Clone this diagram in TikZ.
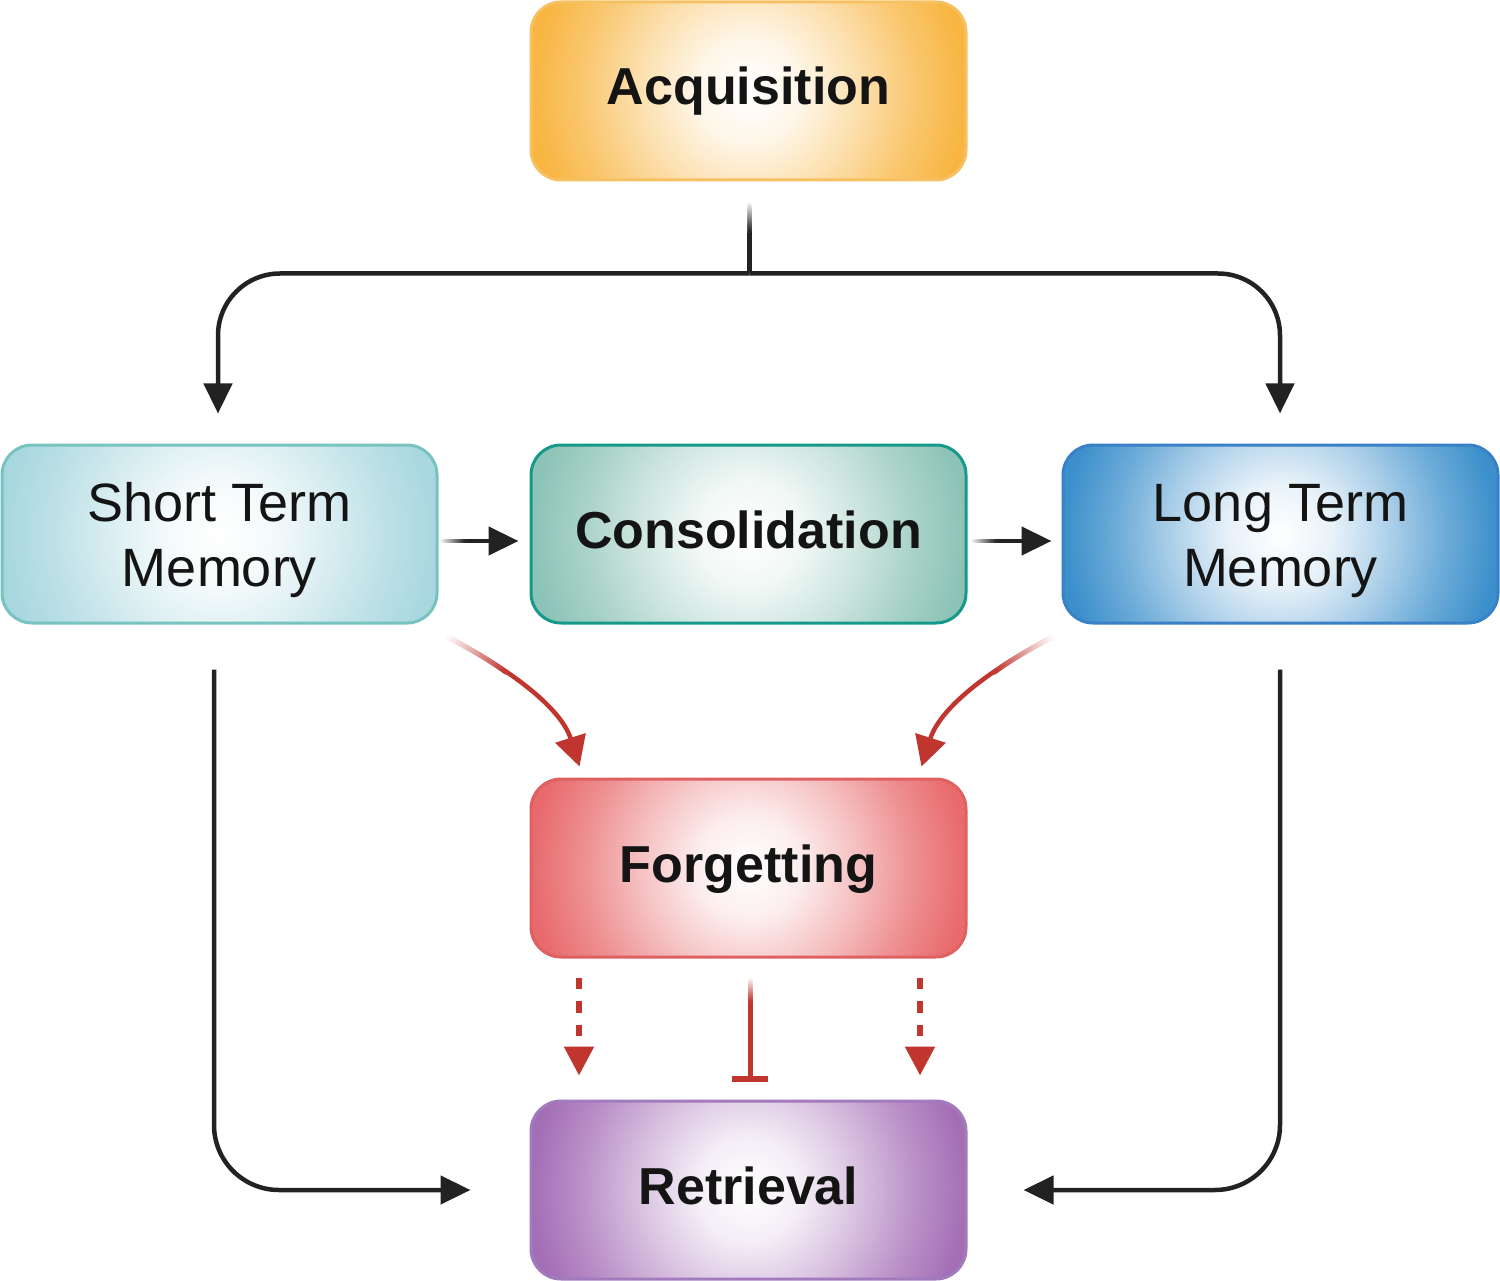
\documentclass[tikz,border=0pt]{standalone}
\usepackage{fontspec}
\setmainfont{Liberation Sans}
\usetikzlibrary{arrows.meta,calc}
\definecolor{acqO}{HTML}{F8B541}
\definecolor{acqB}{HTML}{F6C162}
\definecolor{stmO}{HTML}{A8D7DF}
\definecolor{stmB}{HTML}{76C3BF}
\definecolor{conO}{HTML}{8CC3B6}
\definecolor{conB}{HTML}{14998A}
\definecolor{ltmO}{HTML}{3B8FCB}
\definecolor{ltmB}{HTML}{3A80C6}
\definecolor{forO}{HTML}{E86A6C}
\definecolor{forB}{HTML}{DF6061}
\definecolor{retO}{HTML}{A46EB6}
\definecolor{retB}{HTML}{A27BBD}
\definecolor{redline}{HTML}{C0362F}
\definecolor{lineblack}{HTML}{222222}
\definecolor{txt}{HTML}{141414}
% soft circular radial shadings
\newcommand{\defshade}[2]{%
  \pgfdeclareradialshading{#1}{\pgfpoint{0bp}{0bp}}{color(0bp)=(white); color(6bp)=(#2!12!white); color(12.5bp)=(#2!42!white); color(19bp)=(#2!75!white); color(25bp)=(#2); color(50bp)=(#2)}}
\defshade{shacq}{acqO}
\defshade{shstm}{stmO}
\defshade{shcon}{conO}
\defshade{shltm}{ltmO}
\defshade{shfor}{forO}
\defshade{shret}{retO}
% fading start pieces: short segments blending from white to the line colour
\newcommand{\fadeline}[4]{%
  \foreach \k [evaluate=\k as \p using int(100*(\k+0.5)/20), evaluate=\k as \ta using \k/20, evaluate=\k as \tb using (\k+1)/20] in {0,...,19}
    {\draw[color=#4!\p!white, line width=#3, line cap=round] ($(#1)!\ta!(#2)$) -- ($(#1)!\tb!(#2)$);}%
}
\newcommand{\fadepts}[3]{%
  \foreach \k [evaluate=\k as \p using int(100*(\k+0.5)/20), evaluate=\k as \kk using int(\k+1)] in {0,...,19}
    {\draw[color=#3!\p!white, line width=#2, line cap=round] (#1\k) -- (#1\kk);}%
}
\begin{document}
\begin{tikzpicture}[x=1pt,y=-1pt,
  box/.style={rectangle, rounded corners=30pt, minimum width=435pt, minimum height=178pt,
    line width=3pt, inner sep=0pt, text=txt, align=center},
  soft/.style={path picture={\shade[shading=#1] ($(path picture bounding box.center)+(-217.5,-217.5)$) rectangle ($(path picture bounding box.center)+(217.5,217.5)$);}},
  boldtxt/.style={font=\fontsize{52}{65}\selectfont\bfseries, text height=40pt, text depth=12pt},
  regtxt/.style={font=\fontsize{54}{65}\selectfont},
  blk/.style={draw=lineblack, line width=4.5pt},
  blkarr/.style={-{Triangle[width=28pt,length=30pt]}},
  redc/.style={draw=redline, line width=4.5pt, -{Triangle[width=31pt,length=30pt]}},
  reddash/.style={draw=redline, line width=5.5pt, dash pattern=on 11.5pt off 12pt, -{Triangle[width=29pt,length=29pt]}},
  redbar/.style={draw=redline, line width=5pt, -{Bar[width=36pt,line width=6pt]}}
]
\useasboundingbox (0,0) rectangle (1500,1281);

% boxes
\node[box, boldtxt, soft=shacq, draw=acqB] (acq) at (748.5,91) {Acquisition};
\node[box, regtxt, soft=shstm, draw=stmB] (stm) at (219.5,534) {\rule{0pt}{51pt}Short Term\\Memory};
\node[box, boldtxt, soft=shcon, draw=conB] (cons) at (748.5,534) {Consolidation};
\node[box, regtxt, soft=shltm, draw=ltmB] (ltm) at (1280.5,534) {\rule{0pt}{51pt}Long Term\\Memory};
\node[box, boldtxt, soft=shfor, draw=forB] (forg) at (748.5,868) {Forgetting};
\node[box, boldtxt, soft=shret, draw=retB] (ret) at (748.5,1190) {Retrieval};

% coordinates
\coordinate (acqOut) at ($(acq.south)+(1,22)$);
\coordinate (acqFade) at ($(acq.south)+(1,52)$);
\coordinate (fork) at ($(acq.south)+(1,92)$);
\coordinate (stmIn) at ($(stm.north)+(-1.5,-30)$);
\coordinate (ltmIn) at ($(ltm.north)+(-0.5,-30)$);
\coordinate (sc1) at ($(stm.east)+(3,7)$);
\coordinate (scFade) at ($(stm.east)+(29,7)$);
\coordinate (sc2) at ($(cons.west)+(-11,7)$);
\coordinate (cl1) at ($(cons.east)+(5,7)$);
\coordinate (clFade) at ($(cons.east)+(31,7)$);
\coordinate (cl2) at ($(ltm.west)+(-10,7)$);
\coordinate (stmOut) at ($(stm.south)+(-5.5,45)$);
\coordinate (retInL) at ($(ret.west)+(-59,0)$);
\coordinate (ltmOut) at ($(ltm.south)+(-0.5,45)$);
\coordinate (retInR) at ($(ret.east)+(56,0)$);
\coordinate (rl1) at ($(stm.south east)+(10,13)$);
\coordinate (rl2) at ($(forg.north west)+(50,-11)$);
\coordinate (rr1) at ($(ltm.south west)+(-10,13)$);
\coordinate (rr2) at ($(forg.north east)+(-46,-11)$);
\coordinate (fdl1) at ($(forg.south)+(-169.5,19)$);
\coordinate (fdl2) at ($(ret.north)+(-169.5,-24)$);
\coordinate (fdr1) at ($(forg.south)+(171.5,19)$);
\coordinate (fdr2) at ($(ret.north)+(171.5,-24)$);
\coordinate (fi1) at ($(forg.south)+(1.5,21)$);
\coordinate (fiFade) at ($(forg.south)+(1.5,45)$);
\coordinate (fi2) at ($(ret.north)+(1.5,-18)$);

% black connectors (faded start pieces drawn separately)
\fadeline{acqOut}{acqFade}{4.5pt}{lineblack}
\draw[blk] (acqFade) -- (fork);
\draw[blk, blkarr, rounded corners=62pt] (fork) -| (stmIn);
\draw[blk, blkarr, rounded corners=62pt] (fork) -| (ltmIn);
\fadeline{sc1}{scFade}{4.5pt}{lineblack}
\draw[blk, blkarr] (scFade) -- (sc2);
\fadeline{cl1}{clFade}{4.5pt}{lineblack}
\draw[blk, blkarr] (clFade) -- (cl2);
\draw[blk, blkarr, rounded corners=65pt] (stmOut) |- (retInL);
\draw[blk, blkarr, rounded corners=65pt] (ltmOut) |- (retInR);

% red connectors
\draw[redc] (rl1) .. controls ($(rl1)+(67,35)$) and ($(rl2)+(-18,-57)$) .. (rl2);
\draw[redc] (rr1) .. controls ($(rr1)+(-67,35)$) and ($(rr2)+(18,-57)$) .. (rr2);
\draw[reddash] (fdl1) -- (fdl2);
\draw[reddash] (fdr1) -- (fdr2);
\fadeline{fi1}{fiFade}{5pt}{redline}
\draw[redbar] (fiFade) -- (fi2);

% fades at the red curve starts
\path (rl1) .. controls ($(rl1)+(67,35)$) and ($(rl2)+(-18,-57)$) .. (rl2)
  \foreach \k [evaluate=\k as \t using \k*0.016] in {0,...,20} {coordinate[pos=\t] (fl\k)};
\path (rr1) .. controls ($(rr1)+(-67,35)$) and ($(rr2)+(18,-57)$) .. (rr2)
  \foreach \k [evaluate=\k as \t using \k*0.016] in {0,...,20} {coordinate[pos=\t] (fr\k)};
\fadepts{fl}{4.9pt}{redline}
\fadepts{fr}{4.9pt}{redline}
\end{tikzpicture}
\end{document}
